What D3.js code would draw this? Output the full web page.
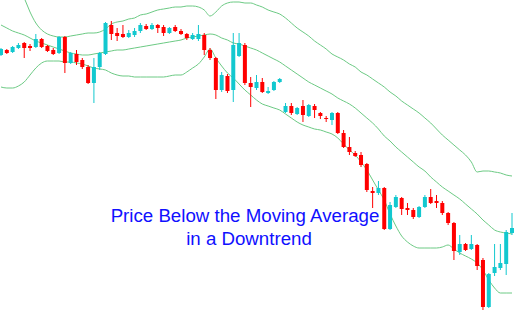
<!DOCTYPE html>
<html>
<head>
<meta charset="utf-8">
<script src="https://cdn.jsdelivr.net/npm/d3@7"></script>
<style>
  html, body { margin: 0; padding: 0; background: #fff; }
  svg { display: block; }
</style>
</head>
<body>
<div id="chart"></div>
<script>
// OHLC values (price units)
const opens  = [269,274,272,276,281,278,277,285,278,274,271,287,261,270,264,257,241,257,270,299,291,290,287,289,293,298,295,299,297,291,297,293,290,285,285,289,274,266,234,248,234,268,279,241,236,242,231,234,242,212,218,210,218,208,218,211,206,204,211,191,177,171,169,160,133,131,136,95,117,126,116,114,107,117,127,123,121,111,101,72,80,75,79,64,17,51,56,60,91];
const highs  = [276,275,278,281,282,280,290,286,279,276,288,288,272,274,266,259,266,272,302,303,296,299,294,296,301,300,301,300,299,297,299,295,291,291,299,291,276,267,252,250,291,291,281,247,249,246,237,243,246,221,221,217,224,220,220,212,208,212,212,194,187,173,172,161,137,143,137,122,129,127,121,116,118,129,135,129,123,112,102,89,81,89,80,66,51,80,80,94,111];
const lows   = [268,270,271,275,266,273,276,276,272,269,270,251,260,259,255,240,221,254,269,284,283,286,286,287,291,294,294,291,288,290,292,289,284,284,283,269,264,225,232,231,222,267,239,217,234,231,230,233,241,211,209,209,202,207,206,205,202,199,190,176,169,167,157,132,116,129,94,94,116,109,109,105,106,116,120,116,109,99,64,69,73,74,54,14,16,48,54,49,89];
const closes = [275,271,277,279,276,276,285,277,273,270,287,261,271,262,257,241,257,271,301,290,288,287,291,293,299,295,299,296,291,296,293,290,286,289,290,274,266,234,249,233,279,281,241,237,242,232,233,242,245,218,211,216,209,219,214,208,205,211,191,177,172,168,159,134,131,136,95,119,127,115,114,107,117,127,121,121,111,101,73,80,74,80,58,17,50,57,61,92,96];

// Bollinger bands at each candle
const upperBand  = [362,355,346,337,326,312,301,294,290,288,287,287,288,289,290,291,291,292,295,300,302,303,305,306,309,310,312,314,315,316,317,317,318,318,317,314,308,312,318,321,322,322,321,321,319,317,314,312,310,306,301,296,292,288,283,279,275,270,267,264,260,257,252,249,245,241,237,232,228,223,219,215,211,206,201,195,189,184,179,174,169,162,152,153,153,152,151,149,148];
const middleBand = [299,296,293,291,289,286,283,281,279,277,275,273,271,270,269,269,270,271,272,273,274,274,275,276,277,278,279,280,281,282,283,284,286,287,288,289,290,289,286,284,281,280,278,276,274,271,268,265,262,258,254,250,246,242,239,236,233,230,226,223,220,216,211,206,201,195,188,183,177,172,167,162,157,153,147,142,137,133,129,125,120,115,110,104,99,94,92,91,90];
const lowerBand  = [237,236,236,238,242,249,256,261,263,263,263,262,262,261,260,258,256,255,254,251,249,248,248,247,247,247,247,247,247,248,249,249,252,256,260,267,275,266,258,251,246,240,234,229,224,220,218,216,214,210,206,202,199,197,195,194,192,190,186,180,174,169,162,154,144,134,124,110,98,88,82,78,76,76,76,76,77,79,75,71,68,65,61,54,44,36,31,31,31];

const captionLines = ['Price Below the Moving Average', 'in a Downtrend'];

const width = 517;
const height = 324;

const upColor = '#12c8cf';
const downColor = '#ff0000';
const bandColor = '#6cca84';

const svg = d3.select('#chart')
  .append('svg')
  .attr('width', width)
  .attr('height', height);

const x = d3.scalePoint()
  .domain(d3.range(opens.length))
  .range([1, 512]);

const y = d3.scaleLinear()
  .domain([0, 324])
  .range([height, 0]);

// Bands first so the candles sit on top
const line = d3.line()
  .x((d, i) => x(i))
  .y(d => y(d))
  .curve(d3.curveMonotoneX);

[upperBand, middleBand, lowerBand].forEach(band => {
  svg.append('path')
    .datum(band)
    .attr('fill', 'none')
    .attr('stroke', bandColor)
    .attr('stroke-width', 1)
    .attr('d', line);
});

const candles = opens.map((o, i) => ({ i, o, h: highs[i], l: lows[i], c: closes[i] }));

const g = svg.append('g');

// wicks
g.selectAll('.wick')
  .data(candles)
  .enter()
  .append('line')
  .attr('class', 'wick')
  .attr('x1', d => x(d.i))
  .attr('x2', d => x(d.i))
  .attr('y1', d => y(d.h))
  .attr('y2', d => y(d.l))
  .attr('stroke', d => d.c >= d.o ? upColor : downColor)
  .attr('stroke-width', 1);

// bodies
g.selectAll('.body')
  .data(candles)
  .enter()
  .append('rect')
  .attr('class', 'body')
  .attr('x', d => x(d.i) - 2)
  .attr('width', 4)
  .attr('y', d => y(Math.max(d.o, d.c)))
  .attr('height', d => Math.max(1, Math.abs(y(d.o) - y(d.c))))
  .attr('fill', d => d.c >= d.o ? upColor : downColor);

// caption
svg.selectAll('.caption')
  .data(captionLines)
  .enter()
  .append('text')
  .attr('class', 'caption')
  .attr('x', (d, i) => i === 0 ? 245 : 249)
  .attr('y', (d, i) => 222 + i * 23)
  .attr('text-anchor', 'middle')
  .style('font-family', '"Liberation Sans", Arial, sans-serif')
  .style('font-size', '18.7px')
  .style('fill', '#1010ff')
  .text(d => d);
</script>
</body>
</html>
